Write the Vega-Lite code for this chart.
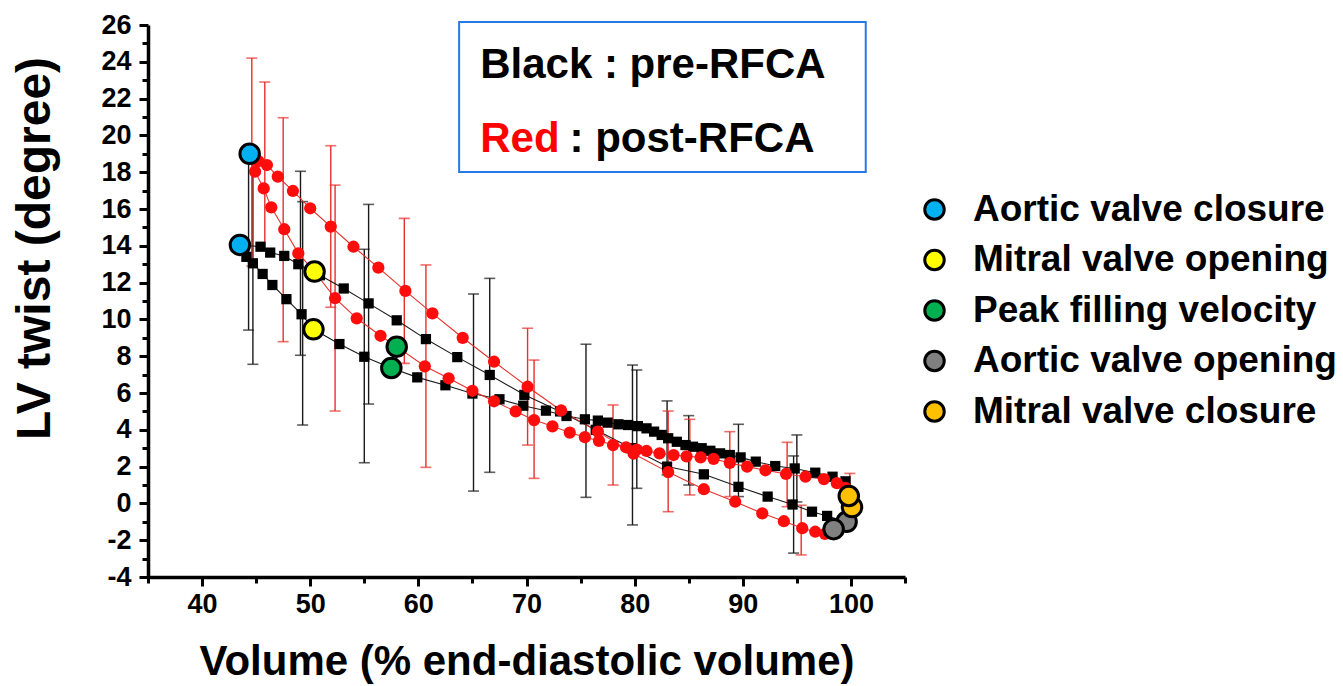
{
  "$schema": "https://vega.github.io/schema/vega-lite/v6.json",
  "autosize": {"type": "none"},
  "width": 757,
  "height": 552,
  "padding": {"left": 148, "top": 25, "right": 438, "bottom": 109},
  "background": "white",
  "config": {
    "view": {"stroke": null},
    "axis": {"grid": false, "domainColor": "black", "domainWidth": 3.5, "tickColor": "black", "tickWidth": 3, "labelColor": "black", "titleColor": "black", "labelFontWeight": "bold", "titleFontWeight": "bold", "labelOverlap": false}
  },
  "datasets": {
    "loops": [
      {"g": "pre", "i": 1, "x": 99.6, "y": -1.0},
      {"g": "pre", "i": 2, "x": 97.8, "y": -0.68},
      {"g": "pre", "i": 3, "x": 96.4, "y": -0.45},
      {"g": "pre", "i": 4, "x": 94.6, "y": -0.06},
      {"g": "pre", "i": 5, "x": 92.3, "y": 0.37},
      {"g": "pre", "i": 6, "x": 89.6, "y": 0.9},
      {"g": "pre", "i": 7, "x": 86.4, "y": 1.58},
      {"g": "pre", "i": 8, "x": 83.0, "y": 2.0},
      {"g": "pre", "i": 9, "x": 79.7, "y": 3.0},
      {"g": "pre", "i": 10, "x": 76.4, "y": 4.0},
      {"g": "pre", "i": 11, "x": 73.1, "y": 5.0},
      {"g": "pre", "i": 12, "x": 69.8, "y": 5.9},
      {"g": "pre", "i": 13, "x": 66.6, "y": 6.98},
      {"g": "pre", "i": 14, "x": 63.6, "y": 7.95},
      {"g": "pre", "i": 15, "x": 60.7, "y": 8.93},
      {"g": "pre", "i": 16, "x": 58.0, "y": 9.95},
      {"g": "pre", "i": 17, "x": 55.4, "y": 10.87},
      {"g": "pre", "i": 18, "x": 53.1, "y": 11.68},
      {"g": "pre", "i": 19, "x": 50.9, "y": 12.4},
      {"g": "pre", "i": 20, "x": 48.9, "y": 13.0},
      {"g": "pre", "i": 21, "x": 47.6, "y": 13.45},
      {"g": "pre", "i": 22, "x": 46.3, "y": 13.63},
      {"g": "pre", "i": 23, "x": 45.4, "y": 13.95},
      {"g": "pre", "i": 24, "x": 43.5, "y": 14.05},
      {"g": "pre", "i": 25, "x": 44.1, "y": 13.4},
      {"g": "pre", "i": 26, "x": 44.7, "y": 13.05},
      {"g": "pre", "i": 27, "x": 45.6, "y": 12.47},
      {"g": "pre", "i": 28, "x": 46.5, "y": 11.87},
      {"g": "pre", "i": 29, "x": 47.8, "y": 11.1},
      {"g": "pre", "i": 30, "x": 49.2, "y": 10.28},
      {"g": "pre", "i": 31, "x": 50.3, "y": 9.46},
      {"g": "pre", "i": 32, "x": 52.7, "y": 8.66},
      {"g": "pre", "i": 33, "x": 55.0, "y": 7.97},
      {"g": "pre", "i": 34, "x": 57.5, "y": 7.36},
      {"g": "pre", "i": 35, "x": 59.9, "y": 6.85},
      {"g": "pre", "i": 36, "x": 62.5, "y": 6.42},
      {"g": "pre", "i": 37, "x": 65.0, "y": 5.97},
      {"g": "pre", "i": 38, "x": 67.5, "y": 5.66},
      {"g": "pre", "i": 39, "x": 69.7, "y": 5.31},
      {"g": "pre", "i": 40, "x": 71.8, "y": 5.04},
      {"g": "pre", "i": 41, "x": 73.7, "y": 4.75},
      {"g": "pre", "i": 42, "x": 75.4, "y": 4.57},
      {"g": "pre", "i": 43, "x": 76.6, "y": 4.5},
      {"g": "pre", "i": 44, "x": 77.5, "y": 4.39},
      {"g": "pre", "i": 45, "x": 78.5, "y": 4.3},
      {"g": "pre", "i": 46, "x": 79.4, "y": 4.26},
      {"g": "pre", "i": 47, "x": 80.3, "y": 4.2},
      {"g": "pre", "i": 48, "x": 81.1, "y": 4.08},
      {"g": "pre", "i": 49, "x": 81.8, "y": 3.9},
      {"g": "pre", "i": 50, "x": 82.5, "y": 3.72},
      {"g": "pre", "i": 51, "x": 83.1, "y": 3.54},
      {"g": "pre", "i": 52, "x": 83.9, "y": 3.35},
      {"g": "pre", "i": 53, "x": 84.7, "y": 3.17},
      {"g": "pre", "i": 54, "x": 85.4, "y": 3.08},
      {"g": "pre", "i": 55, "x": 86.2, "y": 3.0},
      {"g": "pre", "i": 56, "x": 87.0, "y": 2.86},
      {"g": "pre", "i": 57, "x": 87.9, "y": 2.72},
      {"g": "pre", "i": 58, "x": 88.8, "y": 2.63},
      {"g": "pre", "i": 59, "x": 89.8, "y": 2.5},
      {"g": "pre", "i": 60, "x": 91.2, "y": 2.27},
      {"g": "pre", "i": 61, "x": 93.0, "y": 2.03},
      {"g": "pre", "i": 62, "x": 94.8, "y": 1.9},
      {"g": "pre", "i": 63, "x": 96.7, "y": 1.67},
      {"g": "pre", "i": 64, "x": 98.3, "y": 1.45},
      {"g": "pre", "i": 65, "x": 99.5, "y": 1.2},
      {"g": "pre", "i": 66, "x": 100.1, "y": -0.2},
      {"g": "post", "i": 1, "x": 98.4, "y": -1.4},
      {"g": "post", "i": 2, "x": 97.6, "y": -1.66},
      {"g": "post", "i": 3, "x": 96.7, "y": -1.54},
      {"g": "post", "i": 4, "x": 95.5, "y": -1.35},
      {"g": "post", "i": 5, "x": 93.8, "y": -0.97},
      {"g": "post", "i": 6, "x": 91.8, "y": -0.54},
      {"g": "post", "i": 7, "x": 89.3, "y": 0.09},
      {"g": "post", "i": 8, "x": 86.4, "y": 0.77},
      {"g": "post", "i": 9, "x": 83.1, "y": 1.7},
      {"g": "post", "i": 10, "x": 79.9, "y": 2.7},
      {"g": "post", "i": 11, "x": 76.6, "y": 3.9},
      {"g": "post", "i": 12, "x": 73.2, "y": 5.05},
      {"g": "post", "i": 13, "x": 70.1, "y": 6.34},
      {"g": "post", "i": 14, "x": 67.0, "y": 7.7},
      {"g": "post", "i": 15, "x": 64.1, "y": 9.0},
      {"g": "post", "i": 16, "x": 61.3, "y": 10.33},
      {"g": "post", "i": 17, "x": 58.8, "y": 11.55},
      {"g": "post", "i": 18, "x": 56.3, "y": 12.81},
      {"g": "post", "i": 19, "x": 54.0, "y": 13.95},
      {"g": "post", "i": 20, "x": 51.9, "y": 15.04},
      {"g": "post", "i": 21, "x": 50.0, "y": 16.04},
      {"g": "post", "i": 22, "x": 48.4, "y": 16.98},
      {"g": "post", "i": 23, "x": 47.0, "y": 17.76},
      {"g": "post", "i": 24, "x": 46.0, "y": 18.39},
      {"g": "post", "i": 25, "x": 45.2, "y": 18.6},
      {"g": "post", "i": 26, "x": 44.4, "y": 19.0},
      {"g": "post", "i": 27, "x": 44.9, "y": 18.03},
      {"g": "post", "i": 28, "x": 45.7, "y": 17.12},
      {"g": "post", "i": 29, "x": 46.4, "y": 16.09},
      {"g": "post", "i": 30, "x": 47.6, "y": 14.9},
      {"g": "post", "i": 31, "x": 48.9, "y": 13.59},
      {"g": "post", "i": 32, "x": 50.4, "y": 12.6},
      {"g": "post", "i": 33, "x": 52.3, "y": 11.15},
      {"g": "post", "i": 34, "x": 54.3, "y": 10.06},
      {"g": "post", "i": 35, "x": 56.5, "y": 9.11},
      {"g": "post", "i": 36, "x": 58.0, "y": 8.52},
      {"g": "post", "i": 37, "x": 60.6, "y": 7.45},
      {"g": "post", "i": 38, "x": 62.8, "y": 6.8},
      {"g": "post", "i": 39, "x": 65.0, "y": 6.12},
      {"g": "post", "i": 40, "x": 67.0, "y": 5.55},
      {"g": "post", "i": 41, "x": 69.0, "y": 5.0},
      {"g": "post", "i": 42, "x": 70.7, "y": 4.53},
      {"g": "post", "i": 43, "x": 72.4, "y": 4.19},
      {"g": "post", "i": 44, "x": 74.0, "y": 3.85},
      {"g": "post", "i": 45, "x": 75.4, "y": 3.6},
      {"g": "post", "i": 46, "x": 76.7, "y": 3.4},
      {"g": "post", "i": 47, "x": 78.0, "y": 3.17},
      {"g": "post", "i": 48, "x": 79.2, "y": 3.05},
      {"g": "post", "i": 49, "x": 80.2, "y": 2.92},
      {"g": "post", "i": 50, "x": 81.1, "y": 2.85},
      {"g": "post", "i": 51, "x": 82.3, "y": 2.72},
      {"g": "post", "i": 52, "x": 83.6, "y": 2.63},
      {"g": "post", "i": 53, "x": 84.8, "y": 2.56},
      {"g": "post", "i": 54, "x": 86.1, "y": 2.5},
      {"g": "post", "i": 55, "x": 87.3, "y": 2.42},
      {"g": "post", "i": 56, "x": 88.8, "y": 2.2},
      {"g": "post", "i": 57, "x": 90.4, "y": 2.0},
      {"g": "post", "i": 58, "x": 92.1, "y": 1.8},
      {"g": "post", "i": 59, "x": 94.0, "y": 1.6},
      {"g": "post", "i": 60, "x": 95.8, "y": 1.45},
      {"g": "post", "i": 61, "x": 97.5, "y": 1.32},
      {"g": "post", "i": 62, "x": 98.7, "y": 1.1},
      {"g": "post", "i": 63, "x": 99.5, "y": 0.85},
      {"g": "post", "i": 64, "x": 99.8, "y": 0.4}
    ],
    "bars": [
      {"g": "pre", "x": 44.3, "lo": 9.42, "hi": 18.6},
      {"g": "pre", "x": 44.7, "lo": 7.56, "hi": 18.5},
      {"g": "pre", "x": 49.1, "lo": 8.05, "hi": 18.05},
      {"g": "pre", "x": 49.3, "lo": 4.26, "hi": 16.4},
      {"g": "pre", "x": 55.4, "lo": 5.4, "hi": 16.25},
      {"g": "pre", "x": 55.0, "lo": 2.21, "hi": 13.81},
      {"g": "pre", "x": 65.1, "lo": 0.67, "hi": 11.38},
      {"g": "pre", "x": 66.6, "lo": 1.69, "hi": 12.23},
      {"g": "pre", "x": 75.5, "lo": 0.33, "hi": 8.65},
      {"g": "pre", "x": 79.8, "lo": -1.17, "hi": 7.52},
      {"g": "pre", "x": 80.2, "lo": 0.82, "hi": 7.25},
      {"g": "pre", "x": 83.0, "lo": 1.55, "hi": 5.57},
      {"g": "pre", "x": 85.0, "lo": 1.0, "hi": 4.77},
      {"g": "pre", "x": 89.6, "lo": 0.37, "hi": 4.3},
      {"g": "pre", "x": 95.0, "lo": 0.08, "hi": 3.72},
      {"g": "pre", "x": 94.7, "lo": -2.7, "hi": 2.58},
      {"g": "post", "x": 44.6, "lo": 12.9, "hi": 24.2},
      {"g": "post", "x": 45.8, "lo": 13.8, "hi": 22.9},
      {"g": "post", "x": 47.5, "lo": 8.79, "hi": 20.96},
      {"g": "post", "x": 51.9, "lo": 10.66, "hi": 19.44},
      {"g": "post", "x": 52.3, "lo": 5.02, "hi": 17.3},
      {"g": "post", "x": 58.7, "lo": 7.61, "hi": 15.49},
      {"g": "post", "x": 60.7, "lo": 1.96, "hi": 12.96},
      {"g": "post", "x": 70.1, "lo": 3.17, "hi": 9.52},
      {"g": "post", "x": 70.7, "lo": 1.36, "hi": 7.79},
      {"g": "post", "x": 78.0, "lo": 1.0, "hi": 5.35},
      {"g": "post", "x": 83.1, "lo": -0.45, "hi": 5.02},
      {"g": "post", "x": 85.1, "lo": 0.46, "hi": 4.57},
      {"g": "post", "x": 88.8, "lo": 0.37, "hi": 3.9},
      {"g": "post", "x": 94.1, "lo": -0.18, "hi": 3.32},
      {"g": "post", "x": 95.4, "lo": -2.8, "hi": -0.1},
      {"g": "post", "x": 99.9, "lo": 0.07, "hi": 1.63}
    ],
    "events": [
      {"g": "pre", "event": "Aortic valve closure", "x": 43.5, "y": 14.05},
      {"g": "post", "event": "Aortic valve closure", "x": 44.4, "y": 19.0},
      {"g": "pre", "event": "Mitral valve opening", "x": 50.3, "y": 9.46},
      {"g": "post", "event": "Mitral valve opening", "x": 50.4, "y": 12.6},
      {"g": "post", "event": "Peak filling velocity", "x": 58.0, "y": 8.52},
      {"g": "pre", "event": "Peak filling velocity", "x": 57.5, "y": 7.36},
      {"g": "pre", "event": "Aortic valve opening", "x": 99.6, "y": -1.0},
      {"g": "post", "event": "Aortic valve opening", "x": 98.4, "y": -1.4},
      {"g": "pre", "event": "Mitral valve closure", "x": 100.1, "y": -0.2},
      {"g": "post", "event": "Mitral valve closure", "x": 99.8, "y": 0.4}
    ],
    "one": [{}]
  },
  "layer": [
    {
      "data": {"name": "bars"},
      "mark": {"type": "rule", "strokeWidth": 1.4},
      "encoding": {
        "x": {"field": "x", "type": "quantitative",
          "scale": {"domain": [35, 105], "nice": false, "zero": false},
          "axis": {
            "title": "Volume (% end-diastolic volume)",
            "values": [35, 40, 45, 50, 55, 60, 65, 70, 75, 80, 85, 90, 95, 100, 105],
            "tickCount": 60,
            "labelExpr": "datum.value % 10 === 0 && datum.value >= 40 && datum.value <= 100 ? '' + datum.value : ''",
            "labelOverlap": false,
            "tickSize": {"condition": {"test": "datum.value % 10 === 0", "value": 9}, "value": 6},
            "labelFont": "Liberation Sans",
            "labelFontSize": 27,
            "labelPadding": 5,
            "titleFont": "Liberation Sans",
            "titleFontSize": 42,
            "titlePadding": 24
          }},
        "y": {"field": "lo", "type": "quantitative",
          "scale": {"domain": [-4, 26], "nice": false, "zero": false},
          "axis": {
            "title": "LV twist (degree)",
            "values": [-4, -3, -2, -1, 0, 1, 2, 3, 4, 5, 6, 7, 8, 9, 10, 11, 12, 13, 14, 15, 16, 17, 18, 19, 20, 21, 22, 23, 24, 25, 26],
            "tickCount": 60,
            "labelExpr": "datum.value % 2 === 0 ? '' + datum.value : ''",
            "labelOverlap": false,
            "labelBound": false,
            "tickSize": {"condition": {"test": "datum.value % 2 === 0", "value": 9}, "value": 6},
            "labelFontSize": 27,
            "labelFont": "Liberation Sans",
            "labelPadding": 8,
            "titleFont": "Liberation Sans",
            "titleFontSize": 48,
            "titleAnchor": null,
            "titleX": -113,
            "titleY": 223,
            "titleAngle": -90,
            "titleAlign": "center",
            "titleBaseline": "middle"
          }},
        "y2": {"field": "hi"},
        "color": {"field": "g", "type": "nominal", "scale": {"domain": ["pre", "post"], "range": ["#1a1a1a", "#e8302c"]}, "legend": null}
      }
    },
    {
      "data": {"name": "bars"},
      "mark": {"type": "tick", "orient": "horizontal", "size": 11, "thickness": 1.6},
      "encoding": {
        "x": {"field": "x", "type": "quantitative"},
        "y": {"field": "lo", "type": "quantitative"},
        "color": {"field": "g", "type": "nominal", "legend": null}
      }
    },
    {
      "data": {"name": "bars"},
      "mark": {"type": "tick", "orient": "horizontal", "size": 11, "thickness": 1.6},
      "encoding": {
        "x": {"field": "x", "type": "quantitative"},
        "y": {"field": "hi", "type": "quantitative"},
        "color": {"field": "g", "type": "nominal", "legend": null}
      }
    },
    {
      "data": {"name": "loops"},
      "mark": {"type": "line", "strokeWidth": 1.1},
      "encoding": {
        "x": {"field": "x", "type": "quantitative"},
        "y": {"field": "y", "type": "quantitative"},
        "order": {"field": "i", "type": "quantitative"},
        "detail": {"field": "g", "type": "nominal"},
        "color": {"field": "g", "type": "nominal", "legend": null}
      }
    },
    {
      "data": {"name": "loops"},
      "transform": [{"filter": "datum.g === 'pre'"}],
      "mark": {"type": "point", "shape": "square", "filled": true, "size": 105, "color": "black", "opacity": 1},
      "encoding": {
        "x": {"field": "x", "type": "quantitative"},
        "y": {"field": "y", "type": "quantitative"}
      }
    },
    {
      "data": {"name": "loops"},
      "transform": [{"filter": "datum.g === 'post'"}],
      "mark": {"type": "point", "shape": "circle", "filled": true, "size": 150, "color": "#ff0d0d", "opacity": 1},
      "encoding": {
        "x": {"field": "x", "type": "quantitative"},
        "y": {"field": "y", "type": "quantitative"}
      }
    },
    {
      "data": {"name": "events"},
      "mark": {"type": "point", "shape": "circle", "filled": true, "size": 380, "stroke": "black", "strokeWidth": 3, "opacity": 1},
      "encoding": {
        "x": {"field": "x", "type": "quantitative"},
        "y": {"field": "y", "type": "quantitative"},
        "fill": {"field": "event", "type": "nominal",
          "scale": {"domain": ["Aortic valve closure", "Mitral valve opening", "Peak filling velocity", "Aortic valve opening", "Mitral valve closure"],
                    "range": ["#00b0f0", "#ffff00", "#00b050", "#808080", "#ffc000"]},
          "legend": {
            "title": null, "orient": "none", "legendX": 768, "legendY": 166, "padding": 0,
            "symbolType": "circle", "symbolSize": 380, "symbolStrokeColor": "black", "symbolStrokeWidth": 3, "symbolOpacity": 1,
            "labelFont": "Liberation Sans", "labelFontWeight": "bold", "labelFontSize": 37, "labelColor": "black",
            "labelOffset": 20, "rowPadding": 12.5, "labelLimit": 600
          }}
      }
    },
    {
      "data": {"name": "one"},
      "mark": {"type": "rect", "fill": "white", "stroke": "#2a78e4", "strokeWidth": 2},
      "encoding": {
        "x": {"datum": 63.77, "type": "quantitative"},
        "x2": {"datum": 101.37},
        "y": {"datum": 26.16, "type": "quantitative"},
        "y2": {"datum": 18.01}
      }
    },
    {
      "data": {"name": "one"},
      "mark": {"type": "text", "text": "Black : pre-RFCA", "align": "left", "baseline": "alphabetic", "font": "Liberation Sans", "fontWeight": "bold", "fontSize": 42, "color": "black"},
      "encoding": {
        "x": {"datum": 65.72, "type": "quantitative"},
        "y": {"datum": 23.12, "type": "quantitative"}
      }
    },
    {
      "data": {"name": "one"},
      "mark": {"type": "text", "text": "Red", "align": "left", "baseline": "alphabetic", "font": "Liberation Sans", "fontWeight": "bold", "fontSize": 42, "color": "#ff0000"},
      "encoding": {
        "x": {"datum": 65.72, "type": "quantitative"},
        "y": {"datum": 19.1, "type": "quantitative"}
      }
    },
    {
      "data": {"name": "one"},
      "mark": {"type": "text", "text": ": post-RFCA", "align": "left", "baseline": "alphabetic", "font": "Liberation Sans", "fontWeight": "bold", "fontSize": 42, "color": "black"},
      "encoding": {
        "x": {"datum": 73.98, "type": "quantitative"},
        "y": {"datum": 19.1, "type": "quantitative"}
      }
    }
  ]
}
